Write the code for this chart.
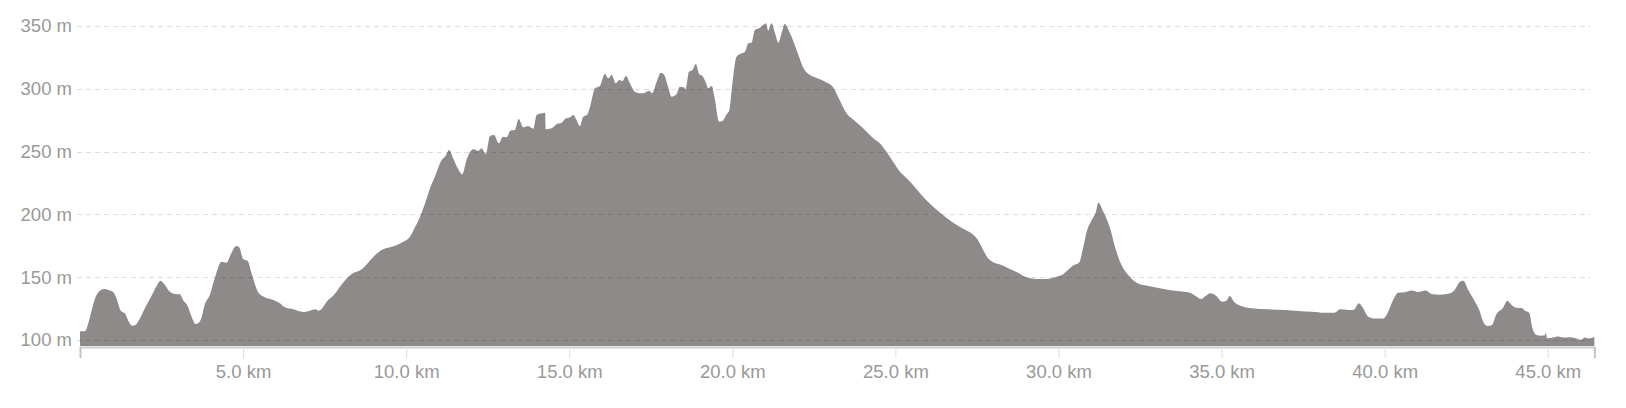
<!DOCTYPE html>
<html>
<head>
<meta charset="utf-8">
<script src="https://cdn.jsdelivr.net/npm/d3@7"></script>
<style>
  body { margin: 0; background: #fff; }
  svg { display: block; font-family: 'Liberation Sans', Arial, sans-serif; }
</style>
</head>
<body>
<div id="chart"></div>
<script>
// distance along the route (km) and elevation (m)
const distKm = [
  0.00, 0.15, 0.31, 0.46, 0.58, 0.74, 0.87, 1.02, 1.12, 1.25, 1.38, 1.48, 1.60, 1.70, 1.84, 1.99,
  2.19, 2.35, 2.47, 2.58, 2.75, 2.91, 3.06, 3.16, 3.30, 3.42, 3.54, 3.64, 3.72, 3.82, 3.98, 4.13,
  4.34, 4.49, 4.64, 4.79, 4.87, 5.01, 5.14, 5.26, 5.47, 5.67, 5.93, 6.13, 6.28, 6.54, 6.84, 7.05,
  7.22, 7.32, 7.61, 7.81, 7.97, 8.33, 8.64, 9.00, 9.25, 9.56, 9.86, 10.12, 10.27, 10.42, 10.58,
  10.73, 10.88, 11.09, 11.19, 11.32, 11.44, 11.58, 11.72, 11.85, 12.06, 12.21, 12.31, 12.44,
  12.57, 12.69, 12.84, 12.97, 13.08, 13.20, 13.33, 13.45, 13.59, 13.74, 13.90, 14.00, 14.16,
  14.26, 14.28, 14.46, 14.62, 14.77, 14.87, 15.02, 15.13, 15.21, 15.33, 15.43, 15.54, 15.64,
  15.79, 15.94, 16.09, 16.20, 16.30, 16.43, 16.53, 16.63, 16.74, 16.86, 17.01, 17.17, 17.32,
  17.45, 17.54, 17.68, 17.81, 17.91, 18.03, 18.14, 18.29, 18.39, 18.51, 18.57, 18.67, 18.78,
  18.88, 18.98, 19.08, 19.19, 19.26, 19.37, 19.45, 19.60, 19.71, 19.81, 19.91, 19.98, 20.13,
  20.29, 20.39, 20.49, 20.59, 20.69, 20.85, 20.95, 21.03, 21.10, 21.20, 21.31, 21.41, 21.51,
  21.61, 21.77, 21.97, 22.20, 22.38, 22.53, 22.84, 23.09, 23.24, 23.50, 23.75, 24.01, 24.27,
  24.52, 24.72, 24.93, 25.14, 25.40, 25.65, 25.91, 26.21, 26.52, 26.77, 27.08, 27.28, 27.49,
  27.64, 27.84, 28.00, 28.25, 28.46, 28.76, 29.02, 29.32, 29.63, 29.94, 30.14, 30.29, 30.45,
  30.64, 30.74, 30.88, 31.02, 31.15, 31.22, 31.37, 31.58, 31.73, 31.93, 32.14, 32.39, 32.65,
  32.95, 33.26, 33.62, 34.03, 34.18, 34.38, 34.51, 34.66, 34.84, 35.01, 35.15, 35.25, 35.38,
  35.61, 35.91, 36.43, 36.94, 37.35, 37.76, 38.17, 38.47, 38.63, 38.88, 39.05, 39.21, 39.34,
  39.49, 39.70, 39.95, 40.06, 40.26, 40.41, 40.62, 40.82, 41.03, 41.26, 41.43, 41.70, 42.01,
  42.16, 42.31, 42.41, 42.56, 42.77, 42.90, 43.02, 43.16, 43.28, 43.43, 43.62, 43.76, 43.89,
  44.04, 44.20, 44.30, 44.43, 44.53, 44.65, 44.81, 44.91, 44.94, 44.98, 45.16, 45.32, 45.47,
  45.67, 45.88, 46.01, 46.14, 46.24, 46.43
]

const elevM = [
  107, 107, 118.6, 133, 138.5, 140.6, 139.8, 138, 133, 123.3, 121, 115.4, 111.4, 112, 117.3, 125.2,
  135, 143, 147.2, 144.6, 138.5, 136.6, 136.4, 131.8, 127, 118.6, 112.7, 113.8, 117.2, 127.9, 135.8, 149.1,
  162.3, 161.5, 169, 174.8, 174.3, 164.2, 162.9, 153.1, 137.7, 134, 131.8, 129.2, 126, 124.4, 122.3, 123.3,
  124.4, 123.3, 131.8, 136.6, 142.4, 152.5, 156.3, 166.3, 171.7, 174.3, 177.5, 182.3, 189.7, 197.7, 208.8,
  220.8, 230, 243.3, 245.9, 251.3, 244.7, 236.7, 231.9, 243.3, 251.8, 250.5, 252.6, 248.1,
  262.4, 263.2, 256.6, 261.9, 261.4, 266.7, 267.2, 276, 269.3, 270.4, 268.2, 279.1, 280.5,
  281, 267.8, 268.6, 272, 273, 276, 277.3, 279.1, 275.7, 270.4, 277.8, 279.1, 285.8,
  300.4, 302.2, 311.8, 308.3, 311, 304.4, 307, 306.2, 310.2, 304.4, 297.7, 296.4, 296.9,
  298.5, 296.4, 305.7, 312.8, 311, 301.7, 293.7, 295.9, 301.7, 301.2, 299.6, 313.6, 315,
  319.7, 311.8, 310.2, 304.9, 300.4, 302.2, 293.7, 273.8, 274.6, 279.1, 283.1, 299, 325.6,
  328.3, 329.5, 336.2, 336.7, 346.8, 348.7, 350.8, 352.2, 346.3, 352.2, 344.2, 336.7, 344.2,
  351.6, 344.2, 330.9, 315.5, 311, 309.2, 305.7, 301.2, 293.7, 280.5, 274.6, 268.6, 261.9,
  256.6, 250, 242, 234, 227.4, 220, 212.3, 204.9, 198.2, 193.4, 188.6, 185.7, 181,
  174.3, 165, 161.9, 159.7, 157.1, 153.6, 149.9, 148.6, 148.6, 150.4, 152.3, 155.7, 159.2,
  161.9, 171.7, 187.6, 195.5, 202.2, 209.3, 202.2, 188.9, 174.3, 159.7, 151.8, 145.6, 143.5,
  142, 140.4, 139, 137.7, 135.5, 132.6, 135, 137.2, 135, 130.5, 131.3, 135, 130.5,
  127, 125.2, 124.4, 123.9, 123.1, 122.5, 121.7, 121.7, 124.4, 123.9, 123.9, 129.2, 125.2,
  118.6, 117, 117, 119.9, 131.8, 137.7, 138, 139.3, 138.2, 139.3, 136.6, 136.1, 137.2,
  140.4, 146.4, 147.2, 139.8, 130.5, 123.9, 114.6, 111.1, 111.7, 120.7, 125.2, 131.3, 127.9,
  125.7, 125.5, 123.3, 121.7, 109.3, 104, 103.4, 103.7, 105.8, 101.4, 101.9, 102.7, 101.9,
  102.1, 101.1, 100, 101.9, 101.1, 102.4
]

const yTicks = [100, 150, 200, 250, 300, 350]
const xTicks = [5, 10, 15, 20, 25, 30, 35, 40, 45]
const totalKm = 46.43
const minElev = 95.2

const width = 1626
const height = 408
const plot = { left: 80, right: 1594.4, top: 26, bottom: 346 }

const data = distKm.map((d, i) => ({ km: d, ele: elevM[i] }))

const svg = d3
  .select('#chart')
  .append('svg')
  .attr('width', width)
  .attr('height', height)

const x = d3
  .scaleLinear()
  .domain([0, totalKm])
  .range([plot.left, plot.right])

const y = d3
  .scaleLinear()
  .domain([minElev, 350])
  .range([plot.bottom, plot.top])

// elevation area
const area = d3
  .area()
  .x(d => x(d.km))
  .y0(y(minElev))
  .y1(d => y(d.ele))
  .curve(d3.curveMonotoneX)

svg.append('path')
  .datum(data)
  .attr('d', area)
  .attr('fill', '#8e8a89')

// dashed grid on top of the fill
svg.append('g')
  .selectAll('line')
  .data(yTicks)
  .join('line')
  .attr('x1', plot.left - 3)
  .attr('x2', 1590)
  .attr('y1', d => Math.round(y(d)) + 0.5)
  .attr('y2', d => Math.round(y(d)) + 0.5)
  .attr('stroke', 'rgba(0,0,0,0.13)')
  .attr('stroke-dasharray', '5,4')

// y labels
const yAxis = d3
  .axisLeft(y)
  .tickValues(yTicks)
  .tickSize(0)
  .tickPadding(8)
  .tickFormat(d => `${d} m`)

const yAxisG = svg.append('g')
  .attr('transform', `translate(${plot.left}, 0)`)
  .call(yAxis)

yAxisG.select('.domain').remove()
yAxisG.selectAll('text')
  .attr('fill', '#999')
  .style('font-size', '18.5px')
  .style('font-family', "'Liberation Sans', Arial, sans-serif")

// x axis
svg.append('line')
  .attr('x1', plot.left)
  .attr('x2', plot.right + 1)
  .attr('y1', 347.5)
  .attr('y2', 347.5)
  .attr('stroke', '#cfcfcf')
  .attr('stroke-width', 2)

const xAxis = d3
  .axisBottom(x)
  .tickValues([0].concat(xTicks, [totalKm]))
  .tickSize(11)
  .tickFormat(d => (d === 0 || d === totalKm) ? '' : `${d3.format('.1f')(d)} km`)

const xAxisG = svg.append('g')
  .attr('transform', 'translate(0, 347)')
  .call(xAxis)

xAxisG.select('.domain').remove()
xAxisG.selectAll('.tick line')
  .attr('stroke', d => (d === 0 || d === totalKm) ? '#c4c4c4' : '#dedede')
  .attr('stroke-width', d => (d === 0 || d === totalKm) ? 2 : 1)
xAxisG.selectAll('text')
  .attr('y', 31)
  .attr('dy', null)
  .attr('fill', '#999')
  .style('font-size', '18.5px')
  .style('font-family', "'Liberation Sans', Arial, sans-serif")
</script>
</body>
</html>
